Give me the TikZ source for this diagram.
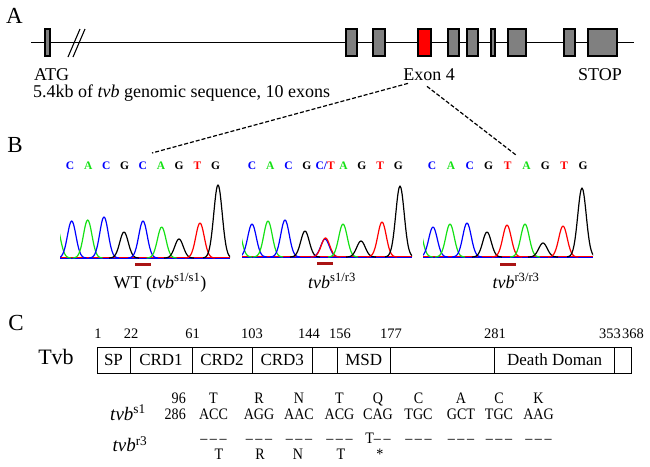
\documentclass[tikz,border=0pt]{standalone}
\usepackage{fontspec}
\setmainfont{Liberation Serif}
\newfontfamily\tabfont[FakeStretch=0.88]{Liberation Serif}
\usetikzlibrary{arrows.meta}

\definecolor{exongray}{RGB}{128,128,128}
\definecolor{seqblue}{RGB}{0,0,255}
\definecolor{seqgreen}{RGB}{20,225,20}
\definecolor{seqred}{RGB}{255,0,0}
\definecolor{barred}{RGB}{170,20,20}

\tikzset{
  lbl/.style={inner sep=0, anchor=base},
  panel/.style={font=\fontsize{23}{23}\selectfont},
  exon/.style={draw=black, line width=2.2pt, inner sep=0, minimum height=26.5pt},
  seq/.style={inner sep=0, anchor=base, font=\fontsize{11.5}{12}\selectfont\bfseries},
  trace/.style={line width=1.2pt, line join=round},
  mutbar/.style={fill=barred, inner sep=0, minimum width=16pt, minimum height=3.5pt},
  cut/.style={line width=1.2pt, dash pattern=on 4pt off 2pt},
  dom/.style={draw=black, line width=0.8pt, inner sep=0, minimum height=26pt,
    font=\fontsize{17}{17}\selectfont},
  num/.style={inner sep=0, anchor=base, font=\fontsize{14.5}{15}\selectfont},
  tab/.style={inner sep=0, anchor=base, font=\tabfont\fontsize{16}{16}\selectfont},
}

\newcommand{\dsh}{\textendash\,\textendash\,\textendash}

\begin{document}
\begin{tikzpicture}[x=1pt, y=-1pt, font=\fontsize{18}{20}\selectfont]
\useasboundingbox (0,0) rectangle (650,466);

% A: gene
\node (pa) at (14.5, 23) [lbl, panel] {A};
\coordinate (gs) at (31, 42.5);
\coordinate (ge) at (634, 42.5);
\draw[line width=1.3pt] (gs) -- (ge);
\draw[line width=1.1pt] (68, 57) -- (80, 29);
\draw[line width=1.1pt] (73, 57) -- (85, 29);

\foreach \a/\b/\c [count=\i] in {44/51/exongray, 345/358/exongray, 372/386/exongray,
    417/432/seqred, 447/460/exongray, 466/479/exongray, 490/496/exongray,
    507/527/exongray, 563/576/exongray, 587/618/exongray}
    \node (ex\i) at ({(\a+\b)/2}, 42.5) [exon, fill=\c, minimum width=(\b-\a-2.2)*1pt] {};

\node (atg) at (51.5, 80) [lbl] {ATG};
\node (ex4lbl) at (429, 80) [lbl] {Exon 4};
\node (stop) at (600, 80) [lbl] {STOP};
\node (gdesc) at (33, 97.5) [lbl, anchor=base west] {5.4kb of \textit{tvb} genomic sequence, 10 exons};

% B: chromatograms
\node (pb) at (15, 152) [lbl, panel] {B};

\foreach \l/\c [count=\i from 0] in {C/seqblue, A/seqgreen, C/seqblue, G/black, C/seqblue,
    A/seqgreen, G/black, T/seqred, G/black}
    \node (sa\i) at ({70+18.2*\i}, 169) [seq, text=\c] {\l};
\foreach \l/\c [count=\i from 0] in {C/seqblue, A/seqgreen, C/seqblue, G/black,
    {{\color{seqblue}C/}{\color{seqred}T}}/black, A/seqgreen, G/black, T/seqred, G/black}
    \node (sb\i) at ({252+18.3*\i}, 169) [seq, text=\c] {\l};
\foreach \l/\c [count=\i from 0] in {C/seqblue, A/seqgreen, C/seqblue, G/black, T/seqred,
    A/seqgreen, G/black, T/seqred, G/black}
    \node (sc\i) at ({432+18.9*\i}, 169) [seq, text=\c] {\l};

\coordinate (cutl) at (152, 153);
\coordinate (cutr) at (516, 155);
\draw[cut] ([shift={(-21,3)}]ex4lbl.south) -- (cutl);
\draw[cut] ([shift={(-2,6)}]ex4lbl.south) -- (cutr);

\begin{scope}
    \clip (60,150) rectangle (230,270);
    \draw[seqred, line width=0.7pt] (60,257.6) -- (230,257.6);
    \draw[seqblue, line width=0.7pt] (60,258.4) -- (230,258.4);
    \foreach \c/\m/\h in {seqgreen/56/34, seqblue/71.7/37, seqgreen/87.7/38, seqblue/104/41,
        black/124/26, seqblue/143/37, seqgreen/161.7/31, black/179/19, seqred/200/35, black/218/73}
        \draw[trace, \c] plot[domain=\m-15:\m+15, samples=31, smooth]
            (\x, {258-\h*exp(0-((\x-\m)/6)^2)});
\end{scope}
\begin{scope}
    \clip (242,150) rectangle (412,270);
    \draw[seqred, line width=0.7pt] (242,256.6) -- (412,256.6);
    \draw[seqblue, line width=0.7pt] (242,257.4) -- (412,257.4);
    \foreach \c/\m/\h in {seqgreen/237/32, seqblue/252/33, seqgreen/268/36, seqblue/285/37,
        black/305/26, seqblue/325/18, seqred/325.5/19, seqgreen/343/33, black/361/16,
        seqred/382/35, black/400/71}
        \draw[trace, \c] plot[domain=\m-15:\m+15, samples=31, smooth]
            (\x, {257-\h*exp(0-((\x-\m)/6)^2)});
\end{scope}
\begin{scope}
    \clip (423,150) rectangle (593,270);
    \draw[seqred, line width=0.7pt] (423,256.6) -- (593,256.6);
    \draw[seqblue, line width=0.7pt] (423,257.4) -- (593,257.4);
    \foreach \c/\m/\h in {seqgreen/418/32, seqblue/433/30, seqgreen/450/33, seqblue/467/34,
        black/487/25, seqred/507/32, seqgreen/525/33, black/543/14, seqred/563/31, black/582/69}
        \draw[trace, \c] plot[domain=\m-15:\m+15, samples=31, smooth]
            (\x, {257-\h*exp(0-((\x-\m)/6)^2)});
\end{scope}

\node (bara) at (143, 264.7) [mutbar] {};
\node (barb) at (324.5, 263.7) [mutbar] {};
\node (barc) at (507.5, 264.7) [mutbar] {};

\node (gwt) at (160, 288) [lbl] {WT (\textit{tvb}\textsuperscript{s1/s1})};
\node (ghet) at (332, 288) [lbl] {\textit{tvb}\textsuperscript{s1/r3}};
\node (ghom) at (516, 288) [lbl] {\textit{tvb}\textsuperscript{r3/r3}};

% C: protein domains
\node (pc) at (16, 330.5) [lbl, panel] {C};
\node (tvb) at (56, 364.5) [lbl, font=\fontsize{22}{24}\selectfont] {Tvb};

\foreach \a/\b/\t [count=\i] in {97/130/SP, 130/192/CRD1, 192/252/CRD2, 252/312.5/CRD3,
    312.5/337.5/, 337.5/390/MSD, 390/494.6/, 494.6/614.6/Death Doman, 614.6/631/}
    \node (d\i) at ({(\a+\b)/2}, 360) [dom, minimum width=(\b-\a)*1pt] {\t};

\foreach \n/\p in {1/98, 22/131, 61/192.5, 103/252, 144/309, 156/340, 177/391,
    281/495, 353/610, 368/633}
    \node (n\n) at (\p, 338) [num] {\n};

% sequence table
\node (ls1) at (128, 420) [lbl, font=\fontsize{19}{20}\selectfont] {\textit{tvb}\textsuperscript{s1}};
\node (lr3) at (130, 451.5) [lbl, font=\fontsize{19}{20}\selectfont] {\textit{tvb}\textsuperscript{r3}};
\node (p96) at (186, 403) [tab, anchor=base east] {96};
\node (p286) at (186, 419) [tab, anchor=base east] {286};

\foreach \p/\aa/\cod/\ds [count=\i] in {213.5/T/ACC/\dsh, 259/R/AGG/\dsh, 299/N/AAC/\dsh,
    339.5/T/ACG/\dsh, 378/Q/CAG/{T\textendash\,\textendash}, 418.5/C/TGC/\dsh,
    461/A/GCT/\dsh, 499/C/TGC/\dsh, 538.5/K/AAG/\dsh} {
    \node (aa\i) at (\p, 403) [tab] {\aa};
    \node (cd\i) at (\p, 419) [tab] {\cod};
    \node (ds\i) at (\p, 443) [tab] {\ds};
}
\foreach \p/\aa [count=\i] in {219/T, 260/R, 298/N, 341/T, 380/*}
    \node (ab\i) at (\p, 459) [tab] {\aa};

\end{tikzpicture}
\end{document}
